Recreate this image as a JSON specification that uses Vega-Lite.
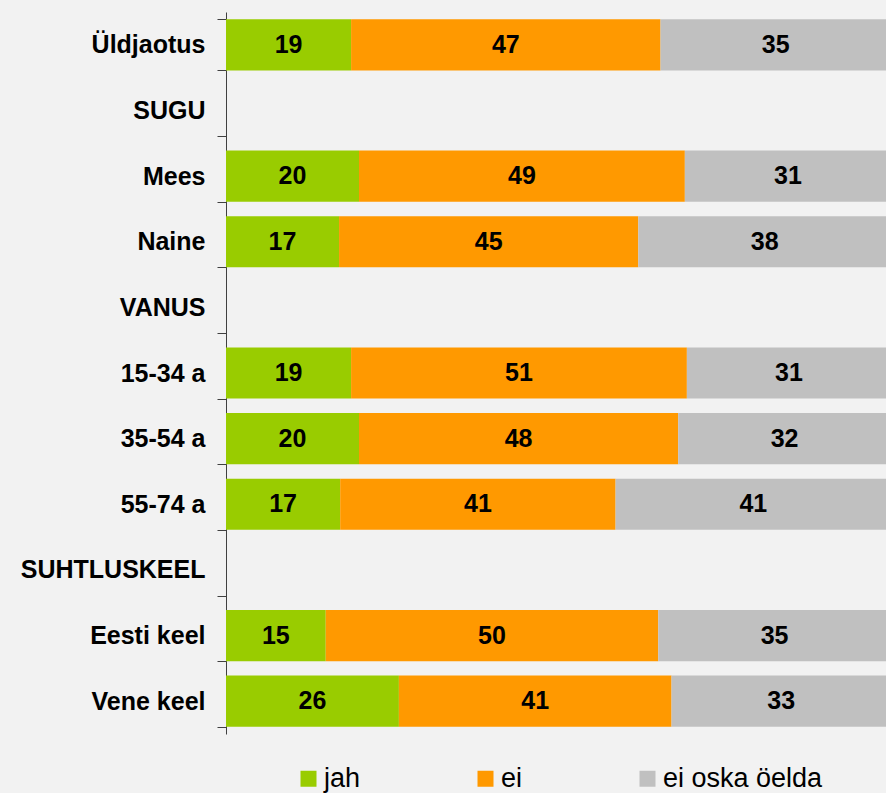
{
  "$schema": "https://vega.github.io/schema/vega-lite/v6.json",
  "width": 660,
  "height": 722,
  "autosize": {"type": "none"},
  "padding": {"left": 226, "top": 12, "right": 0, "bottom": 59},
  "background": "#f2f2f2",
  "config": {
    "view": {"stroke": null},
    "font": "Liberation Sans"
  },
  "data": {
    "values": [
      {"group": "Üldjaotus", "answer": "jah", "ord": 1, "value": 19},
      {"group": "Üldjaotus", "answer": "ei", "ord": 2, "value": 47},
      {"group": "Üldjaotus", "answer": "ei oska öelda", "ord": 3, "value": 35},
      {"group": "Mees", "answer": "jah", "ord": 1, "value": 20},
      {"group": "Mees", "answer": "ei", "ord": 2, "value": 49},
      {"group": "Mees", "answer": "ei oska öelda", "ord": 3, "value": 31},
      {"group": "Naine", "answer": "jah", "ord": 1, "value": 17},
      {"group": "Naine", "answer": "ei", "ord": 2, "value": 45},
      {"group": "Naine", "answer": "ei oska öelda", "ord": 3, "value": 38},
      {"group": "15-34 a", "answer": "jah", "ord": 1, "value": 19},
      {"group": "15-34 a", "answer": "ei", "ord": 2, "value": 51},
      {"group": "15-34 a", "answer": "ei oska öelda", "ord": 3, "value": 31},
      {"group": "35-54 a", "answer": "jah", "ord": 1, "value": 20},
      {"group": "35-54 a", "answer": "ei", "ord": 2, "value": 48},
      {"group": "35-54 a", "answer": "ei oska öelda", "ord": 3, "value": 32},
      {"group": "55-74 a", "answer": "jah", "ord": 1, "value": 17},
      {"group": "55-74 a", "answer": "ei", "ord": 2, "value": 41},
      {"group": "55-74 a", "answer": "ei oska öelda", "ord": 3, "value": 41},
      {"group": "Eesti keel", "answer": "jah", "ord": 1, "value": 15},
      {"group": "Eesti keel", "answer": "ei", "ord": 2, "value": 50},
      {"group": "Eesti keel", "answer": "ei oska öelda", "ord": 3, "value": 35},
      {"group": "Vene keel", "answer": "jah", "ord": 1, "value": 26},
      {"group": "Vene keel", "answer": "ei", "ord": 2, "value": 41},
      {"group": "Vene keel", "answer": "ei oska öelda", "ord": 3, "value": 33}
    ]
  },
  "encoding": {
    "y": {
      "field": "group",
      "type": "nominal",
      "scale": {
        "domain": ["Üldjaotus", "SUGU", "Mees", "Naine", "VANUS", "15-34 a", "35-54 a", "55-74 a", "SUHTLUSKEEL", "Eesti keel", "Vene keel"],
        "paddingInner": 0.22,
        "paddingOuter": 0.11
      },
      "axis": {
        "title": null,
        "tickBand": "extent",
        "domainColor": "#404040",
        "tickColor": "#404040",
        "tickSize": 9,
        "labelPadding": 12,
        "labelFontSize": 25,
        "labelFontWeight": "bold",
        "labelColor": "#000000",
        "labelFont": "Liberation Sans",
        "labelLimit": 0
      }
    }
  },
  "layer": [
    {
      "mark": {"type": "bar", "clip": true},
      "encoding": {
        "x": {"field": "value", "type": "quantitative", "stack": "normalize", "axis": null, "scale": {"domain": [0, 0.9925], "nice": false, "zero": true}},
        "order": {"field": "ord", "type": "quantitative"},
        "color": {
          "field": "answer",
          "type": "nominal",
          "scale": {"domain": ["jah", "ei", "ei oska öelda"], "range": ["#99cc00", "#ff9900", "#c0c0c0"]},
          "legend": {
            "title": null,
            "orient": "none",
            "direction": "horizontal",
            "legendX": 69,
            "legendY": 753,
            "symbolType": "square",
            "symbolSize": 256,
            "symbolStrokeWidth": 0,
            "labelFontSize": 27,
            "labelFont": "Liberation Sans",
            "labelColor": "#000000",
            "labelOffset": 2,
            "columnPadding": 111
          }
        }
      }
    },
    {
      "mark": {"type": "text", "fontSize": 25, "fontWeight": "bold", "color": "#000000", "baseline": "middle", "align": "center"},
      "encoding": {
        "x": {"field": "value", "type": "quantitative", "stack": "normalize", "bandPosition": 0.5},
        "detail": {"field": "answer"},
        "order": {"field": "ord", "type": "quantitative"},
        "text": {"field": "value", "type": "quantitative"}
      }
    }
  ]
}
